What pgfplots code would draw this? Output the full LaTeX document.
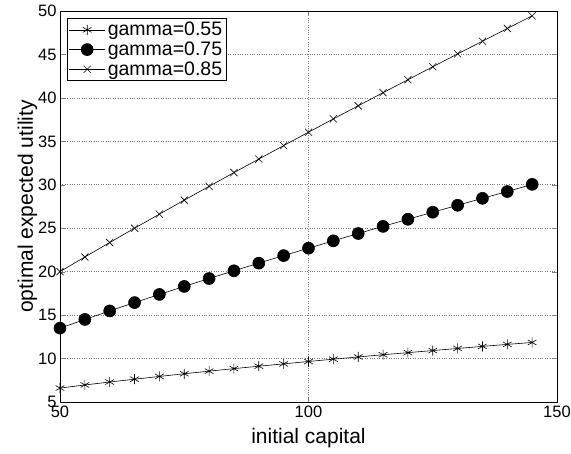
\documentclass[border=0pt]{standalone}
\usepackage{pgfplots}
\pgfplotsset{compat=1.18}
\usepackage{fontspec}
\setmainfont{Liberation Sans}
\newcommand\lf{\fontsize{19.5}{21.5}\selectfont}
\begin{document}
\begin{tikzpicture}
\begin{axis}[
  scale only axis,
  width=497pt, height=391pt,
  xmin=50, xmax=150, ymin=5, ymax=50,
  xtick={50,100,150}, ytick={5,10,...,50},
  /pgf/number format/assume math mode=true,
  tick label style={font=\fontsize{16.5}{18}\selectfont},
  xlabel={initial capital}, ylabel={optimal expected utility},
  label style={font=\fontsize{21}{24}\selectfont},
  xlabel style={yshift=-4pt},
  ylabel style={yshift=-6pt},
  tick align=inside, major tick length=5pt,
  xtick pos=both, ytick pos=both,
  grid=major,
  major grid style={black!55, dotted, line width=0.7pt},
  axis line style={line width=0.9pt},
  every axis plot/.append style={black, line width=0.6pt},
  legend style={at={(0.014,0.982)}, anchor=north west, draw=black, line width=0.9pt,
    font=\lf, inner sep=1.5pt, row sep=0pt,
    nodes={inner sep=2.3pt}, legend cell align=left},
  legend image code/.code={
    \draw[mark repeat=2,mark phase=2] plot coordinates {(0pt,0pt) (18pt,0pt) (36pt,0pt)};},
]
\addplot[mark=asterisk, mark size=5pt, mark options={line width=0.6pt}] coordinates {
(50,6.60) (55,6.96) (60,7.30) (65,7.62) (70,7.94) (75,8.25) (80,8.55) (85,8.84) (90,9.12) (95,9.39)
(100,9.66) (105,9.93) (110,10.18) (115,10.44) (120,10.68) (125,10.92) (130,11.16) (135,11.40) (140,11.63) (145,11.85)};
\addplot[mark=*, mark size=6pt] coordinates {
(50,13.50) (55,14.50) (60,15.48) (65,16.44) (70,17.38) (75,18.30) (80,19.21) (85,20.10) (90,20.98) (95,21.85)
(100,22.70) (105,23.55) (110,24.39) (115,25.21) (120,26.03) (125,26.84) (130,27.64) (135,28.44) (140,29.22) (145,30.05)};
\addplot[mark=x, mark size=5pt] coordinates {
(50,20.00) (55,21.69) (60,23.35) (65,25.00) (70,26.62) (75,28.23) (80,29.82) (85,31.40) (90,32.96) (95,34.51)
(100,36.05) (105,37.58) (110,39.09) (115,40.60) (120,42.09) (125,43.58) (130,45.06) (135,46.52) (140,47.99) (145,49.44)};
\legend{gamma=0.55, gamma=0.75, gamma=0.85}
\end{axis}
\pgfresetboundingbox
\path ([shift={(-60pt,-52pt)}]current axis.south west) rectangle ([shift={(14pt,11pt)}]current axis.north east);
\end{tikzpicture}
\end{document}
